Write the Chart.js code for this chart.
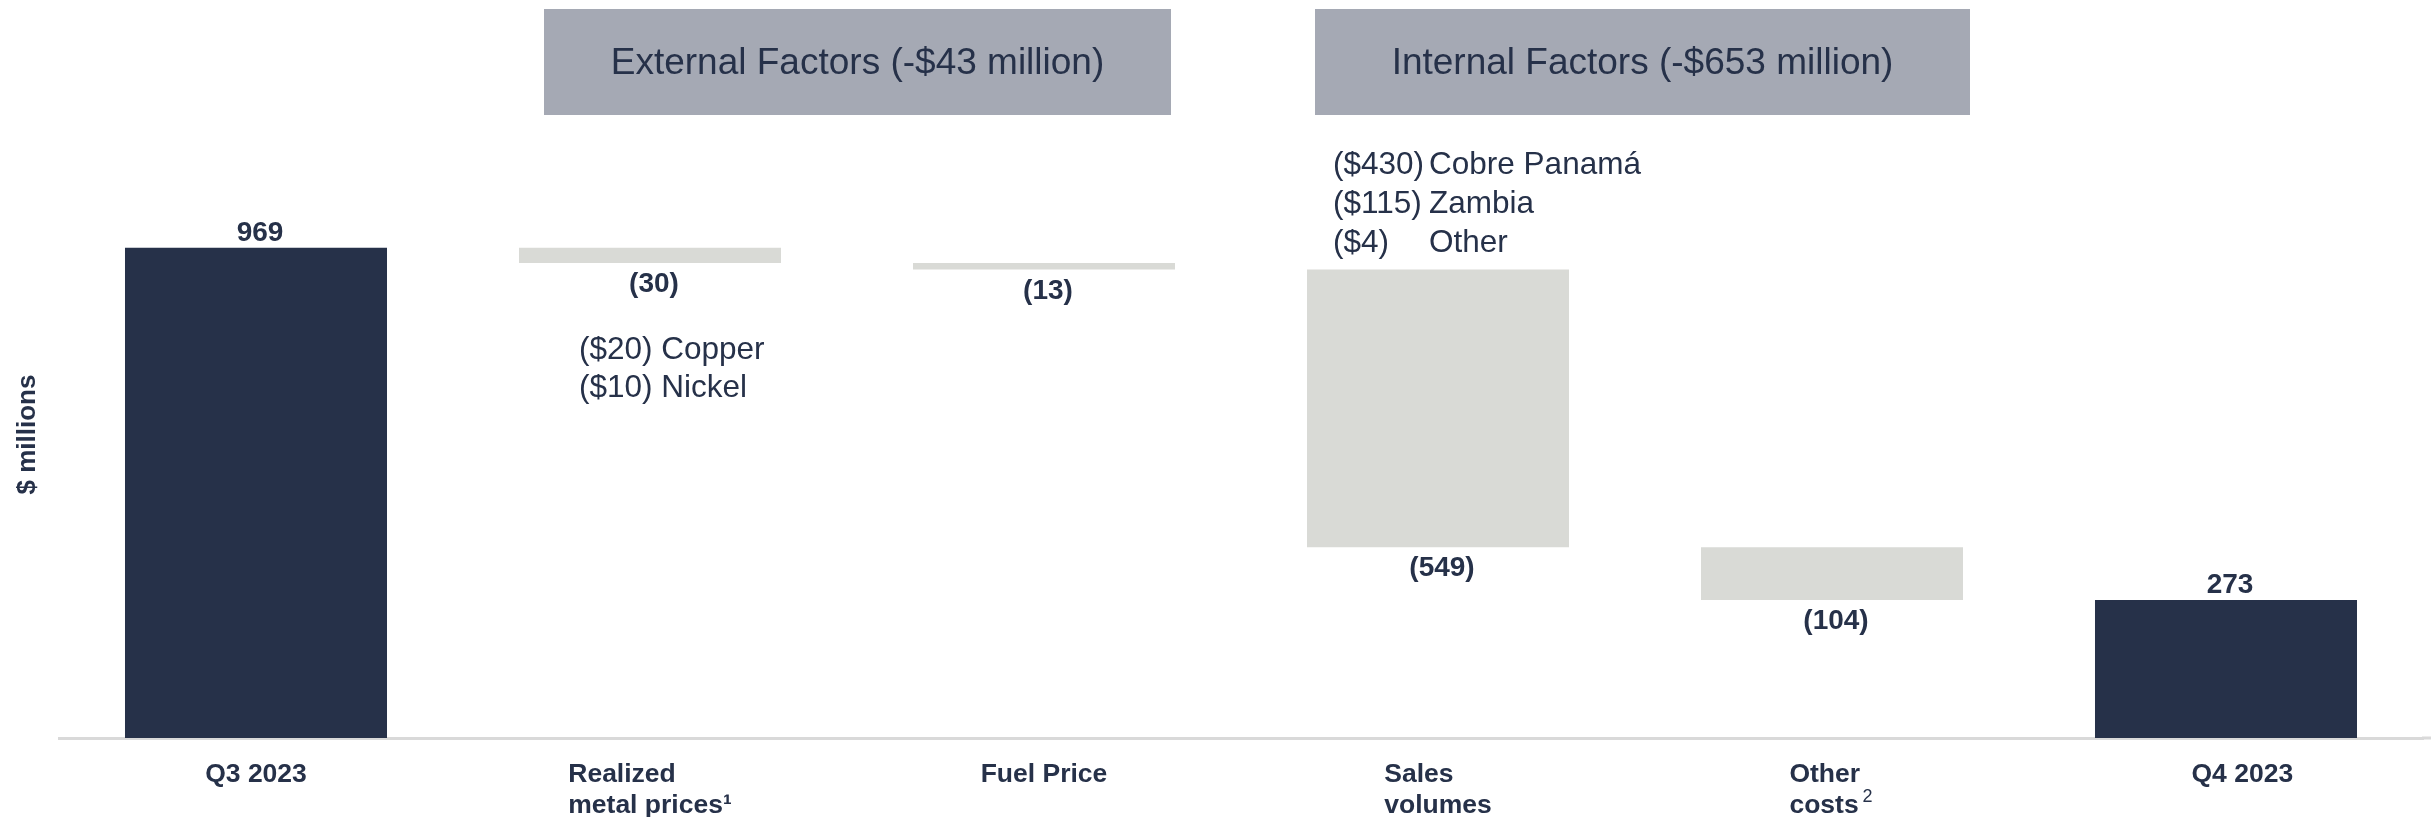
<!DOCTYPE html>
<html><head><meta charset="utf-8">
<script src="https://cdn.jsdelivr.net/npm/chart.js@4.4.1/dist/chart.umd.min.js"></script>
<style>html,body{margin:0;padding:0;background:#fff;}#wrap{width:2433px;height:817px;position:relative;}</style>
</head><body><div id="wrap"><canvas id="c"></canvas></div>
<script>
// ---- data ----
const categories = [['Q3 2023'], ['Realized', 'metal prices\u00B9'], ['Fuel Price'], ['Sales', 'volumes'], ['Other', 'costs'], ['Q4 2023']];
const superscripts = ['', '', '', '', '2', ''];
const changes = [969, -30, -13, -549, -104, 273];
const isTotal = [true, false, false, false, false, true];
const valueLabels = ['969', '(30)', '(13)', '(549)', '(104)', '273'];
const headerTitles = ['External Factors (-$43 million)', 'Internal Factors (-$653 million)'];
const metalBreakdown = [['($20)', 'Copper'], ['($10)', 'Nickel']];
const salesBreakdown = [['($430)', 'Cobre Panamá'], ['($115)', 'Zambia'], ['($4)', 'Other']];
const yAxisTitle = '$ millions';
const yMin = 0, yMax = 1200;

// ---- styles ----
const NAVY = '#263149';
const GREYBAR = '#d9dad6';
const HEADBOX = '#a5a9b4';
const AXIS = '#d9d9d9';
const FONT = '"Liberation Sans", Arial, Helvetica, sans-serif';

let running = 0;
const ranges = changes.map((v, i) => {
  if (isTotal[i]) { running = v; return [0, v]; }
  const r = [running + v, running]; running += v; return r;
});
const colors = isTotal.map(t => t ? NAVY : GREYBAR);

const decor = {
  id: 'decor',
  beforeDatasetsDraw(chart) {
    const ctx = chart.ctx;
    const area = chart.chartArea;
    ctx.save();
    ctx.strokeStyle = AXIS;
    ctx.lineWidth = 3;
    ctx.beginPath();
    ctx.moveTo(area.right - 1, area.bottom);
    ctx.lineTo(chart.width - 2, area.bottom);
    ctx.stroke();
    ctx.restore();
  },
  afterDraw(chart) {
    const ctx = chart.ctx;
    const area = chart.chartArea;
    const bars = chart.getDatasetMeta(0).data;
    ctx.save();
    // header boxes
    const boxes = [[544, 1171], [1315, 1970]];
    boxes.forEach((b, i) => {
      ctx.fillStyle = HEADBOX;
      ctx.fillRect(b[0], 9, b[1] - b[0], 106);
      ctx.fillStyle = NAVY;
      ctx.font = '37px ' + FONT;
      ctx.textAlign = 'center';
      ctx.textBaseline = 'alphabetic';
      ctx.fillText(headerTitles[i], (b[0] + b[1]) / 2, 74);
    });
    // value labels
    ctx.fillStyle = NAVY;
    ctx.font = 'bold 28px ' + FONT;
    ctx.textAlign = 'center';
    bars.forEach((bar, i) => {
      const top = Math.min(bar.y, bar.base), bottom = Math.max(bar.y, bar.base);
      if (isTotal[i]) ctx.fillText(valueLabels[i], bar.x + 4, top - 7);
      else ctx.fillText(valueLabels[i], bar.x + 4, bottom + 29);
    });
    // breakdown annotations
    ctx.font = '31.5px ' + FONT;
    ctx.textAlign = 'left';
    const b1 = bars[1];
    const b1bottom = Math.max(b1.y, b1.base);
    metalBreakdown.forEach((row, k) => {
      ctx.fillText(row[0] + ' ' + row[1], b1.x - 71, b1bottom + 96 + k * 38.3);
    });
    const b3 = bars[3];
    const b3top = Math.min(b3.y, b3.base);
    const ax = b3.x - 105;
    const nameX = ax + ctx.measureText(salesBreakdown[0][0]).width + 5;
    salesBreakdown.forEach((row, k) => {
      const y = b3top - 95.7 + k * 39.1;
      ctx.fillText(row[0], ax, y);
      ctx.fillText(row[1], nameX, y);
    });
    // category labels
    const xs = chart.scales.x;
    ctx.font = 'bold 26.5px ' + FONT;
    categories.forEach((lines, i) => {
      const cx = xs.getPixelForValue(i);
      const widths = lines.map((l, k) => {
        let w = ctx.measureText(l).width;
        if (k === lines.length - 1 && superscripts[i]) w += 16;
        return w;
      });
      const bw = Math.max(...widths);
      const left = cx - bw / 2;
      lines.forEach((l, k) => {
        const y = area.bottom + 44 + k * 31;
        ctx.font = 'bold 26.5px ' + FONT;
        ctx.fillText(l, left, y);
        if (k === lines.length - 1 && superscripts[i]) {
          const w = ctx.measureText(l).width;
          ctx.font = '18px ' + FONT;
          ctx.fillText(superscripts[i], left + w + 4, y - 11);
        }
      });
    });
    // y axis title
    ctx.font = 'bold 26px ' + FONT;
    ctx.translate(28, (area.top + area.bottom) / 2);
    ctx.rotate(-Math.PI / 2);
    ctx.textAlign = 'center';
    ctx.textBaseline = 'middle';
    ctx.fillText(yAxisTitle, 0, 0);
    ctx.restore();
  }
};

new Chart(document.getElementById('c'), {
  type: 'bar',
  data: {
    labels: categories.map(c => c.join(' ')),
    datasets: [{
      data: ranges,
      backgroundColor: colors,
      borderWidth: 0,
      barPercentage: 0.665,
      categoryPercentage: 1
    }]
  },
  options: {
    responsive: true,
    maintainAspectRatio: false,
    animation: false,
    layout: { padding: { left: 59, right: 10, top: 131, bottom: 79 } },
    plugins: { legend: { display: false }, tooltip: { enabled: false } },
    scales: {
      x: {
        offset: true,
        grid: { display: false, drawTicks: false },
        ticks: { display: false },
        border: { display: true, color: AXIS, width: 3 }
      },
      y: { display: false, min: yMin, max: yMax }
    }
  },
  plugins: [decor]
});
</script>
</body></html>
